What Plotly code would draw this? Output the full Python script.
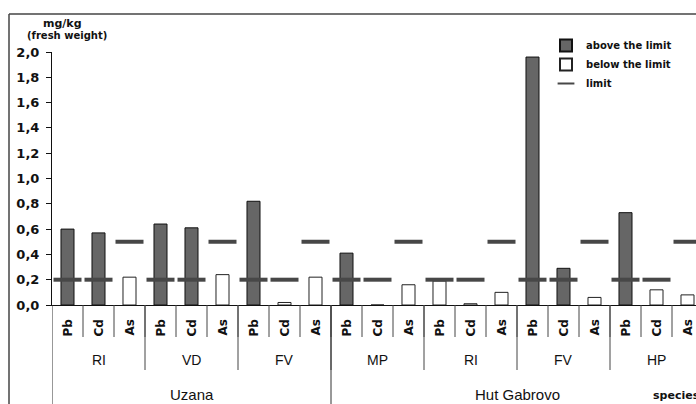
import plotly.graph_objects as go

elements = ["Pb", "Cd", "As"] * 7
species = ["RI", "VD", "FV", "MP", "RI", "FV", "HP"]
species_site = [0, 0, 0, 1, 1, 1, 1]
sites = ["Uzana", "Hut Gabrovo"]
values = [0.60, 0.57, 0.22, 0.64, 0.61, 0.24, 0.82, 0.02, 0.22,
          0.41, 0.0, 0.16, 0.19, 0.01, 0.10, 1.96, 0.29, 0.06, 0.73, 0.12, 0.08]
limits = [0.2, 0.2, 0.5] * 7
y_ticks = [0.0, 0.2, 0.4, 0.6, 0.8, 1.0, 1.2, 1.4, 1.6, 1.8, 2.0]
y_tick_labels = ["0,0", "0,2", "0,4", "0,6", "0,8", "1,0", "1,2", "1,4", "1,6", "1,8", "2,0"]

W, H = 696, 404
L, T, B = 52, 52, 99
plot_w = W - L
plot_h = H - T - B
cat_px = 31.0
x_end = -0.5 + plot_w / cat_px

def py(p):  # pixel y -> paper y
    return (H - B - p) / plot_h

def px(p):
    return (p - L) / plot_w

idx = list(range(len(values)))
above_x = [i for i in idx if values[i] > limits[i]]
above_y = [values[i] for i in above_x]
below_x = [i for i in idx if values[i] <= limits[i]]
below_y = [values[i] for i in below_x]

BOLD = dict(family="DejaVu Sans", weight="bold", color="#111")

fig = go.Figure()
fig.add_trace(go.Bar(x=above_x, y=above_y, name="above the limit", width=0.42,
                     marker=dict(color="#666666", line=dict(color="#111", width=1))))
fig.add_trace(go.Bar(x=below_x, y=below_y, name="below the limit", width=0.42,
                     marker=dict(color="#ffffff", line=dict(color="#222", width=1))))
fig.add_trace(go.Scatter(x=idx, y=limits, mode="markers", name="limit",
                         marker=dict(symbol="line-ew", size=20,
                                     line=dict(color="#474747", width=4)),
                         cliponaxis=True))

shapes = []
# outer frame
shapes.append(dict(type="line", xref="paper", yref="paper", x0=px(9), x1=px(700),
                   y0=py(14), y1=py(14), line=dict(color="#444", width=1.5)))
shapes.append(dict(type="line", xref="paper", yref="paper", x0=px(9), x1=px(9),
                   y0=py(14), y1=py(406), line=dict(color="#444", width=1.5)))

annotations = []
# level 1: elements
for i, e in enumerate(elements):
    annotations.append(dict(x=i, y=py(328), xref="x", yref="paper", text=e,
                            textangle=-90, showarrow=False,
                            xanchor="center", yanchor="middle",
                            font=dict(size=12, **BOLD)))
    if i > 0:
        shapes.append(dict(type="line", xref="x", yref="paper", x0=i - 0.5, x1=i - 0.5,
                           y0=0, y1=py(337), line=dict(color="#444", width=1)))

# level 2: species
start = 0
for s in species:
    annotations.append(dict(x=start + 1, y=py(360), xref="x", yref="paper", text=s,
                            showarrow=False, xanchor="center", yanchor="middle",
                            font=dict(family="Liberation Sans", size=14, color="#111")))
    start += 3
    shapes.append(dict(type="line", xref="x", yref="paper", x0=start - 0.5, x1=start - 0.5,
                       y0=0, y1=py(370), line=dict(color="#444", width=1)))

# level 3: sites
for k, name in enumerate(sites):
    members = [j for j, s in enumerate(species_site) if s == k]
    a = members[0] * 3
    b = members[-1] * 3 + 2
    annotations.append(dict(x=(a + b) / 2, y=py(394), xref="x", yref="paper", text=name,
                            showarrow=False, xanchor="center", yanchor="middle",
                            font=dict(family="Liberation Sans", size=15, color="#111")))
    shapes.append(dict(type="line", xref="x", yref="paper", x0=a - 0.5, x1=a - 0.5,
                       y0=0, y1=py(406), line=dict(color="#333", width=1)))

annotations.append(dict(x=px(651), y=py(395), xref="paper", yref="paper", text="species",
                        xanchor="left", yanchor="middle", showarrow=False,
                        font=dict(size=11, **BOLD)))
annotations.append(dict(x=px(62), y=py(24), xref="paper", yref="paper", text="mg/kg",
                        xanchor="center", yanchor="middle", showarrow=False,
                        font=dict(size=11, **BOLD)))
annotations.append(dict(x=px(67), y=py(36), xref="paper", yref="paper", text="(fresh weight)",
                        xanchor="center", yanchor="middle", showarrow=False,
                        font=dict(size=10, **BOLD)))

fig.update_layout(
    width=W, height=H,
    margin=dict(l=L, r=0, t=T, b=B),
    paper_bgcolor="white", plot_bgcolor="white",
    bargap=0.58,
    showlegend=True,
    legend=dict(x=px(546), y=py(31), xanchor="left", yanchor="top",
                bgcolor="rgba(0,0,0,0)", font=dict(size=10, **BOLD),
                itemsizing="constant", tracegroupgap=0),
    xaxis=dict(range=[-0.5, x_end], showticklabels=False, showgrid=False, zeroline=False,
               showline=True, linecolor="#111", linewidth=1, ticks=""),
    yaxis=dict(range=[0, 2.0], tickvals=y_ticks, ticktext=y_tick_labels,
               showgrid=False, zeroline=False, showline=True, linecolor="#111",
               linewidth=1, ticks="outside", ticklen=5, tickcolor="#111",
               ticklabelstandoff=4, tickfont=dict(size=13, **BOLD)),
    shapes=shapes,
    annotations=annotations,
)

fig.write_html("out.html", config={"displayModeBar": False},
               post_script="document.body.style.margin='0';")
